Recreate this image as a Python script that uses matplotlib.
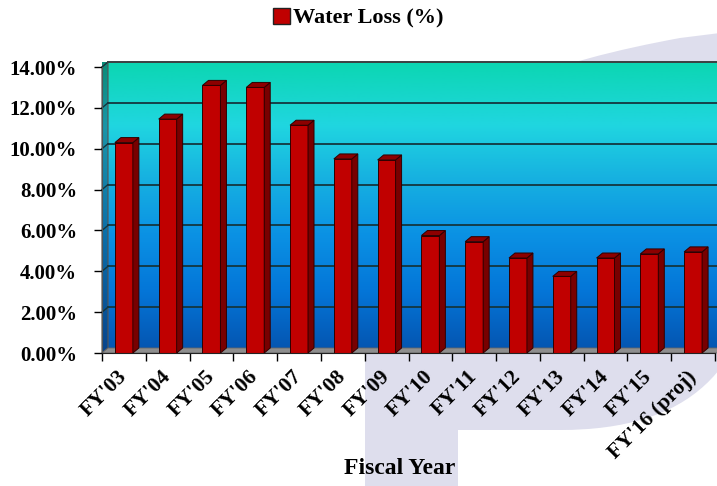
import matplotlib
matplotlib.use('Agg')
import matplotlib.pyplot as plt
import numpy as np
from matplotlib.colors import LinearSegmentedColormap
from matplotlib.patches import Polygon, Patch, PathPatch
from matplotlib.path import Path

# data
years = ["FY'03", "FY'04", "FY'05", "FY'06", "FY'07", "FY'08", "FY'09",
         "FY'10", "FY'11", "FY'12", "FY'13", "FY'14", "FY'15", "FY'16 (proj)"]
water_loss = [10.3, 11.45, 13.1, 13.0, 11.15, 9.5, 9.45,
              5.75, 5.45, 4.65, 3.75, 4.65, 4.85, 4.95]
y_ticks = [0, 2, 4, 6, 8, 10, 12, 14]

W, H = 717, 486
plt.rcParams['font.family'] = ['Liberation Serif', 'DejaVu Serif']
plt.rcParams['font.weight'] = 'bold'

fig = plt.figure(figsize=(W / 100, H / 100), dpi=100)

# faded "P" watermark behind everything (pixel coords)
bg = fig.add_axes([0, 0, 1, 1], zorder=-5)
bg.set_xlim(0, W)
bg.set_ylim(H, 0)
bg.axis('off')
verts = [(365, H), (365, 200),
         (420, 100), (560, 60), (680, 38),
         (760, 28),
         (760, 250),
         (750, 370), (690, 430), (560, 430),
         (458, 430), (458, H), (365, H)]
codes = [Path.MOVETO, Path.LINETO,
         Path.CURVE4, Path.CURVE4, Path.CURVE4,
         Path.LINETO,
         Path.LINETO,
         Path.CURVE4, Path.CURVE4, Path.CURVE4,
         Path.LINETO, Path.LINETO, Path.CLOSEPOLY]
bg.add_patch(PathPatch(Path(verts, codes), facecolor='#dedeed', edgecolor='none'))

# main axes, front plane
x0, x1, ytop, ybot = 102, 715, 67, 353
ax = fig.add_axes([x0 / W, (H - ybot) / H, (x1 - x0) / W, (ybot - ytop) / H])
ax.set_facecolor('none')
n = len(years)
xlo, xhi = -0.5, n - 0.5
ax.set_xlim(xlo, xhi)
ax.set_ylim(0, 14)

dx = 6 / ((x1 - x0) / n)        # depth in category units
dy = 5 / ((ybot - ytop) / 14)   # depth in percent units

wall_cmap = LinearSegmentedColormap.from_list('wall', [
    (0.0, '#0456b2'), (0.2, '#0476d8'), (0.4, '#0b92e4'),
    (0.6, '#17b2e0'), (0.78, '#20d6e0'), (1.0, '#0cd6b2')])
side_cmap = LinearSegmentedColormap.from_list('side', [
    (0.0, '#07448c'), (0.4, '#0a6ea8'), (0.78, '#1a96a8'), (1.0, '#0a8c78')])
grad = np.linspace(0, 1, 256).reshape(-1, 1)

# back wall
ax.imshow(grad, cmap=wall_cmap, aspect='auto', origin='lower',
          extent=(xlo + dx, xhi + dx + 0.2, dy, 14 + dy), zorder=0, clip_on=False)
# left side wall
side = Polygon([(xlo, 0), (xlo + dx, dy), (xlo + dx, 14 + dy), (xlo, 14)],
               closed=True, facecolor='none', edgecolor='#555555', lw=0.8,
               zorder=1, clip_on=False)
ax.add_patch(side)
im = ax.imshow(grad, cmap=side_cmap, aspect='auto', origin='lower',
               extent=(xlo, xlo + dx, 0, 14 + dy), zorder=0.5, clip_on=False)
im.set_clip_path(side)
ax.set_xlim(xlo, xhi)
ax.set_ylim(0, 14)

# floor
ax.add_patch(Polygon([(xlo, 0), (xhi + 0.2, 0), (xhi + 0.2 + dx, dy), (xlo + dx, dy)],
                     closed=True, facecolor='#8e8e8e', edgecolor='#666666', lw=0.6,
                     zorder=1, clip_on=False))

# gridlines on back and side walls
for v in y_ticks[1:]:
    ax.plot([xlo + dx, xhi + dx + 0.2], [v + dy, v + dy], color='#14363e', lw=1.3,
            zorder=1.5, clip_on=False)
    ax.plot([xlo, xlo + dx], [v, v + dy], color='#14363e', lw=1.0, zorder=1.5, clip_on=False)
ax.plot([xlo + dx, xhi + dx + 0.2], [14 + dy, 14 + dy], color='#444444', lw=1.2,
        zorder=1.5, clip_on=False)

# 3D bars
bw = 0.41
xs = np.arange(n)
ax.bar(xs, water_loss, width=bw, color='#c00000', edgecolor='#300000', lw=0.7, zorder=3)
for x, v in zip(xs, water_loss):
    r, l = x + bw / 2, x - bw / 2
    ax.add_patch(Polygon([(r, 0), (r + dx, dy), (r + dx, v + dy), (r, v)], closed=True,
                         facecolor='#780000', edgecolor='#300000', lw=0.7, zorder=3,
                         clip_on=False))
    ax.add_patch(Polygon([(l, v), (r, v), (r + dx, v + dy), (l + dx, v + dy)], closed=True,
                         facecolor='#8c0000', edgecolor='#300000', lw=0.7, zorder=3,
                         clip_on=False))

# axes and ticks
for s in ['top', 'right']:
    ax.spines[s].set_visible(False)
ax.spines['left'].set_color('#555555')
ax.spines['bottom'].set_color('#222222')
ax.spines['left'].set_zorder(4)
ax.spines['bottom'].set_zorder(4)
ax.set_yticks(y_ticks)
ax.set_yticklabels([f'{v:.2f}%' for v in y_ticks], fontsize=15, fontweight='bold')
ax.tick_params(axis='y', length=6, width=1, pad=12)

ax.set_xticks(xs)
ax.set_xticklabels(years, fontsize=15.5, fontweight='bold', rotation=45,
                   ha='right', va='center', rotation_mode='anchor')
ax.tick_params(axis='x', which='major', length=0, pad=15)
ax.set_xticks(np.arange(n + 1) - 0.5, minor=True)
ax.tick_params(axis='x', which='minor', length=6, width=1)

fig.text(0.558, 1 - 468 / H, 'Fiscal Year', ha='center', va='center',
         fontsize=17, fontweight='bold')

fig.legend(handles=[Patch(facecolor='#c00000', edgecolor='#222222')],
           labels=['Water Loss (%)'], loc='center', bbox_to_anchor=(0.5, 1 - 18 / H),
           frameon=False, prop={'size': 16, 'weight': 'bold'},
           handlelength=0.75, handleheight=0.75, handletextpad=0.15)

fig.savefig('out.png', dpi=100)
